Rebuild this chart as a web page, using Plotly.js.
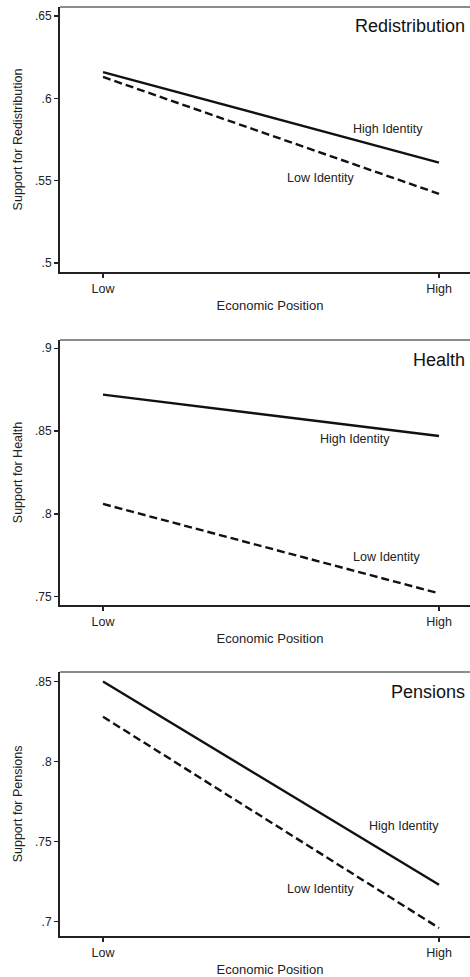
<!DOCTYPE html>
<html>
<head>
<meta charset="utf-8">
<script src="https://cdn.plot.ly/plotly-3.0.1.min.js"></script>
<style>
html,body{margin:0;padding:0;overflow:hidden;background:#fff;width:470px;height:977px;}
#chart{width:480px;height:977px;}
</style>
</head>
<body>
<div id="chart"></div>
<script>
// Data
var positions = [0, 1];
var positionLabels = ['Low', 'High'];
var panelTitles = ['Redistribution', 'Health', 'Pensions'];
var yTitles = ['Support for Redistribution', 'Support for Health', 'Support for Pensions'];
var highRedistribution = [0.616, 0.561];
var lowRedistribution = [0.613, 0.542];
var highHealth = [0.872, 0.847];
var lowHealth = [0.806, 0.752];
var highPensions = [0.850, 0.723];
var lowPensions = [0.828, 0.696];
var yTickVals = [[0.5, 0.55, 0.6, 0.65], [0.75, 0.8, 0.85, 0.9], [0.7, 0.75, 0.8, 0.85]];
var yTickText = [['.5', '.55', '.6', '.65'], ['.75', '.8', '.85', '.9'], ['.7', '.75', '.8', '.85']];

var highSeries = [highRedistribution, highHealth, highPensions];
var lowSeries = [lowRedistribution, lowHealth, lowPensions];

// Layout settings
var yRanges = [[0.4945, 0.6555], [0.745, 0.905], [0.691, 0.856]];
var yDomains = [[0.7216, 0.9928], [0.3808, 0.6520], [0.0420, 0.3122]];
var highLabelPos = [[0.848, 0.5815], [0.75, 0.8452], [0.896, 0.760]];
var lowLabelPos = [[0.646, 0.5518], [0.845, 0.774], [0.646, 0.7204]];
var titleY = [0.644, 0.893, 0.8436];

var fam = 'Liberation Sans, Arial, Helvetica, sans-serif';
var famNarrow = 'Liberation Sans Narrow, Arial Narrow, Liberation Sans, sans-serif';
var txt = '#222';
var traces = [];
var layout = {
  width: 480, height: 977,
  margin: {l: 0, r: 0, t: 0, b: 0},
  paper_bgcolor: '#fff', plot_bgcolor: '#fff',
  showlegend: false,
  font: {family: fam, size: 12, color: txt},
  annotations: [], shapes: []
};

for (var i = 0; i < 3; i++) {
  var sfx = i === 0 ? '' : String(i + 1);
  traces.push({x: positions, y: highSeries[i], xaxis: 'x' + sfx, yaxis: 'y' + sfx,
    mode: 'lines', line: {color: '#111', width: 2.4}, hoverinfo: 'skip'});
  traces.push({x: positions, y: lowSeries[i], xaxis: 'x' + sfx, yaxis: 'y' + sfx,
    mode: 'lines', line: {color: '#111', width: 2.4, dash: '8px,4px'}, hoverinfo: 'skip'});
  layout['xaxis' + sfx] = {
    domain: [60 / 480, 1], anchor: 'y' + sfx,
    range: [-0.128, 1.122], tickvals: positions, ticktext: positionLabels,
    showgrid: false, zeroline: false, showline: true, linecolor: '#222', linewidth: 2,
    ticks: 'outside', ticklen: 4, tickwidth: 1.5, tickcolor: '#222',
    tickfont: {family: fam, size: 12.5, color: txt},
    title: {text: 'Economic Position', font: {family: fam, size: 13, color: txt}, standoff: 6},
    automargin: false
  };
  layout['yaxis' + sfx] = {
    domain: yDomains[i], anchor: 'x' + sfx,
    range: yRanges[i], tickvals: yTickVals[i], ticktext: yTickText[i],
    showgrid: false, zeroline: false, showline: true, linecolor: '#222', linewidth: 2,
    ticks: 'outside', ticklen: 4, tickwidth: 1.5, tickcolor: '#222',
    tickfont: {family: fam, size: 12, color: txt},
    title: {text: yTitles[i], font: {family: famNarrow, size: 12.5, color: txt}, standoff: 10},
    automargin: false
  };
  layout.shapes.push({type: 'line', xref: 'x' + sfx + ' domain', yref: 'y' + sfx + ' domain',
    x0: 0, x1: 1, y0: 1, y1: 1, line: {color: '#666', width: 1.5}});
  layout.annotations.push({xref: 'x' + sfx, yref: 'y' + sfx, x: highLabelPos[i][0], y: highLabelPos[i][1],
    text: 'High Identity', showarrow: false, xanchor: 'center', yanchor: 'middle',
    font: {family: fam, size: 12.5, color: txt}});
  layout.annotations.push({xref: 'x' + sfx, yref: 'y' + sfx, x: lowLabelPos[i][0], y: lowLabelPos[i][1],
    text: 'Low Identity', showarrow: false, xanchor: 'center', yanchor: 'middle',
    font: {family: fam, size: 12.5, color: txt}});
  layout.annotations.push({xref: 'x' + sfx, yref: 'y' + sfx, x: 1.083, y: titleY[i],
    text: panelTitles[i], showarrow: false, xanchor: 'right', yanchor: 'middle',
    font: {family: fam, size: 18, color: '#111'}});
}

Plotly.newPlot('chart', traces, layout, {staticPlot: true, displayModeBar: false});
</script>
</body>
</html>
